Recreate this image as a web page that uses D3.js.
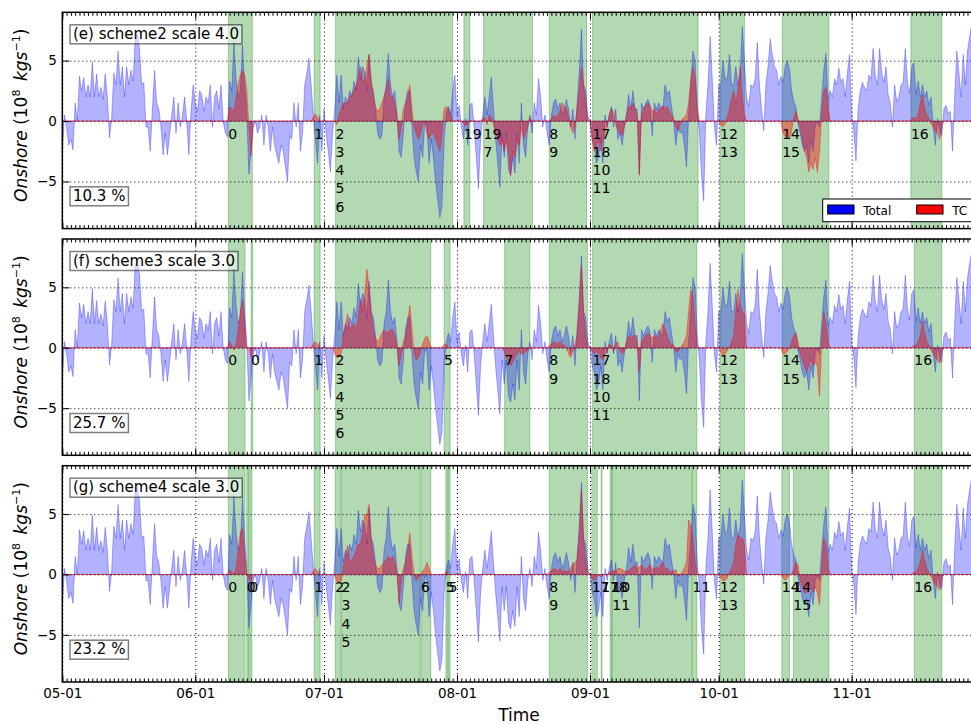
<!DOCTYPE html>
<html>
<head>
<meta charset="utf-8">
<script src="https://cdn.jsdelivr.net/npm/d3@7"></script>
<style>
body { margin: 0; background: #fff; }
text { font-family: "DejaVu Sans", sans-serif; }
</style>
</head>
<body>
<div id="chart"></div>
<script>

// Onshore flux, total (10^8 kg/s), one value every 12 h from 05-01 00h
var total = [
  -2.8, 0.5, -0.5, -2.0, -1.5, -2.4, 1.5, 0.0, 3.7, 2.5,
  3.6, 2.0, 3.0, 2.0, 4.9, 2.0, 3.9, 2.0, 2.8, 1.8,
  3.9, 2.0, -1.4, 0.2, 4.0, 3.0, 5.8, 3.0, 4.5, 2.0,
  4.5, 3.0, 4.2, 3.3, 6.9, 7.2, 6.0, 3.0, 3.2, -0.5,
  -0.5, -2.5, 1.0, 4.2, 1.5, 1.0, -0.5, -2.8, -1.0, -2.8,
  -1.2, 0.5, 2.0, -1.0, 1.5, -0.5, 0.4, 2.0, 0.0, -2.8,
  0.8, 3.0, 1.5, 0.8, 2.5, 2.2, 0.8, 2.0, 1.5, 3.0,
  -0.5, 2.0, 2.5, 1.0, 3.0, 0.0, -1.0, -1.3, 3.3, 2.5,
  6.5, 3.5, 2.0, 2.5, 6.3, 2.8, 0.5, -4.4, -2.5, -0.5,
  0.0, -1.0, -0.5, 0.5, -2.0, 0.5, -0.5, -2.5, -0.5, -2.0,
  -2.8, -3.5, -2.0, -2.5, -3.8, -5.0, -1.2, -1.5, 1.5, -0.5,
  1.5, -2.5, -1.0, 3.0, 4.0, 5.2, 3.0, 0.5, -1.5, -3.5,
  0.5, -2.5, 1.0, -1.0, -2.5, -4.2, -1.0, 1.0, 3.8, 1.5,
  3.8, 1.0, 2.0, 1.5, 2.5, 2.0, 3.3, 2.5, 5.3, 3.5,
  4.5, 4.0, 2.5, 5.5, 3.0, 2.5, 1.0, -1.0, -1.5, -1.2,
  2.0, 3.0, 5.6, 3.0, 2.0, 2.5, 0.5, -2.5, -3.0, -1.0,
  1.5, 2.5, 2.5, -0.5, -3.0, -4.2, -5.0, -2.0, -3.0, 0.0,
  -0.5, -3.5, -1.5, -3.0, -5.0, -6.5, -8.0, -7.0, -1.5, 0.5,
  1.2, 0.5, 2.5, 3.8, 0.5, 1.3, -0.5, -1.5, 0.2, -2.0,
  1.3, 1.5, -0.5, -3.0, -5.6, -1.5, 0.5, 2.0, 0.5, 2.0,
  3.6, 1.0, -1.5, -3.5, -5.5, -1.0, -3.0, -1.0, -4.0, -4.5,
  -3.0, -4.3, -1.0, -3.5, 1.5, -2.0, -3.0, -0.5, 0.5, -1.0,
  1.5, 0.5, 3.5, 2.0, -0.5, 0.5, -1.0, -2.0, 0.5, 1.5,
  1.8, 1.0, 1.5, 0.5, 1.0, 1.8, 1.0, -0.5, 1.0, -1.5,
  1.5, 4.0, 7.6, 3.0, 2.5, 0.5, 0.0, -1.5, -2.0, -3.5,
  -3.0, -1.5, -3.5, 0.5, -0.5, 0.5, 1.2, -0.5, 1.0, -1.5,
  -1.0, -2.0, -0.5, 0.5, 2.2, 1.0, 2.5, 1.0, 1.0, -4.4,
  1.5, 1.0, 1.5, 1.8, 1.3, -1.2, 1.5, 1.0, 1.5, 1.2,
  1.0, 3.0, 2.2, 2.5, 1.2, 0.0, -2.0, -0.5, -1.0, -0.8,
  -2.0, -3.8, 0.5, 3.0, 5.8, 5.0, 1.0, -1.0, -4.5, -6.6,
  0.5, 3.0, 7.0, 3.5, -0.5, -2.0, 3.0, 3.0, 5.0, 3.5,
  3.5, 5.5, 3.0, 3.0, 4.5, 3.0, 4.0, 7.8, 5.0, 2.0,
  1.2, 3.0, 2.8, 3.5, 6.5, 3.0, 1.0, -0.8, 3.0, 4.5,
  6.8, 5.5, 4.5, 4.2, 3.0, 3.7, 3.2, 4.5, 5.0, 4.3,
  2.5, 1.6, 1.2, -0.3, -1.0, -2.0, -2.5, -2.0, -3.5, -1.5,
  -2.5, -0.5, 0.0, -0.5, 2.0, 4.2, 5.6, 1.8, 2.5, 2.0,
  3.5, 3.0, 4.4, 3.2, 3.5, 2.0, 4.0, 5.5, 0.5, -0.8,
  -3.3, 1.0, 2.5, 3.2, 2.8, 2.5, 3.8, 3.5, 6.0, 3.8,
  3.0, 6.0, 4.0, 3.2, 4.5, 2.2, 1.5, -0.5, 3.0, 1.6,
  2.0, 3.0, 3.2, 6.0, 3.2, 2.3, 4.5, 4.8, 2.2, 3.3,
  2.0, 3.0, 2.0, 2.5, 1.3, 2.0, -0.5, -2.0, 0.2, -0.8,
  -1.2, 1.0, 1.3, 0.6, 0.8, -2.5, 2.0, 5.8, 4.0, 2.0,
  5.5, 3.0, 5.8, 7.0, 8.0, 7.0
];

// TC part, as [first 12h slot, values...]; zero outside these pieces
var tcScheme2 = [
  [78, [1.2, 1.0, 0.8, 1.8, 3.0, 3.8, 4.2, 3.8, 2.5, -0.5, -2.9]],
  [117, [0.3, 0.6, 0.3]],
  [128, [-0.3, 0.5, 1.0, 1.5, 1.5, 1.5, 2.0, 2.2, 2.5, 3.0,
         3.5, 4.5, 3.2, 3.5, 4.5, 5.5, 3.5, 2.0, 1.2, 0.8,
         1.0, 1.5, 2.0, 2.5, 3.5, 2.0, 2.0, 1.5, 0.5, -1.5,
         -0.5, 1.0, 1.5, 2.0, 3.0, 1.0, -0.5, -1.0, -1.5, -1.0,
         -0.3, 0.0, -1.0, -1.5, -1.0, -1.0, -1.5, -2.0, -2.5, -1.0,
         1.0, 1.2, 1.0, 0.5]],
  [187, [-0.2, -0.4, -0.3]],
  [196, [0.2, 0.3, -0.3, 0.5, 0.3, -0.3, -1.0, -1.5, -2.0, -1.5,
         -2.5, -1.5, -2.5, -4.5, -2.5, -3.0, -1.5, -2.0, -0.5, -1.5,
         -1.0, -0.5, 0.3]],
  [228, [0.2, 0.5, 0.3, 0.5, 0.8, 1.5, 1.2, 1.0, 0.3, -0.5,
         -1.0, -0.3, 1.0, 2.5, 4.5, 3.0, 1.5]],
  [247, [-1.5, -2.5, -2.0, -1.5, -2.5, -1.5, -1.0, -0.5, 0.5, 1.0,
         0.8, -0.3, -0.8, -1.0, -1.2, -0.5, 0.5, 1.2, 1.0, 1.5,
         1.0, 0.5, -4.5, 0.5, 1.0, 1.3, 1.5, 1.2, 0.8, 1.0,
         0.5, 1.0, 1.0, 1.3, 1.0, 1.2, 0.8, 0.5, 0.2, -0.5,
         -0.8, -0.3, 0.2, 0.3, 0.5, 1.5, 3.5, 4.5, 3.5, 1.0]],
  [307, [-0.3, -0.5, -0.2, 0.3, 1.0, 1.8, 2.5, 1.5, 2.5, 4.5, 2.0, 0.5]],
  [336, [-1.0, -1.3, -0.8, -1.5, -0.8, 0.3, 0.8, 0.2, -0.5, -1.5,
         -2.5, -3.0, -4.2, -3.5, -4.0, -3.0, -4.2, -2.5, 0.5, 2.5,
         2.8, 1.0]],
  [396, [0.2, 0.3, 0.2, 0.5, 1.5, 2.2, 1.0, 0.5, 0.2, -0.2,
         -0.5, -0.8, -1.0, -1.5, -0.3]]
];

var tcScheme3 = [
  [78, [0.5, 0.2, -0.2, 0.3, 1.5, 3.0, 3.9, 2.0]],
  [88, [-0.8]],
  [117, [0.3, 0.5, 0.3]],
  [127, [-0.5, -0.8, -0.8, -0.5, 1.0, 1.8, 2.8, 1.5, 1.8, 2.0,
         1.5, 2.5, 4.0, 3.0, 4.5, 6.5, 5.0, 3.0, 1.5, 0.8,
         0.5, 0.8, 1.2, 1.5, 1.2, 1.3, 1.5, 1.5, 1.0, 0.3,
         -1.5, -0.5, 0.5, 1.0, 2.0, 3.5, 1.5, -0.5, -1.0, -0.8,
         -0.3, 0.3, 0.8, 1.0, 0.5]],
  [178, [0.3, 0.3]],
  [206, [-0.3, -0.8, -1.0, -1.5, -1.2, -0.8, -0.5, -0.3, -0.5, -0.5, -0.3, -0.2]],
  [227, [0.2, 0.3, 0.5, 0.4, 0.3, 0.5, 0.3, 0.2, 0.0, -0.5,
         -0.8, -0.3, 0.3, 1.0, 3.5, 6.8, 3.0, 1.0]],
  [247, [-0.3, -0.5, -0.3, -0.5, -0.8, -1.0, -0.5, -0.3, 0.3, 0.2,
         -0.3, 0.3, 0.5, -0.3, -0.5, -0.3, 0.5, 1.0, 0.8, 1.0,
         1.0, 0.5, -2.0, 0.5, 0.8, 1.0, 1.2, 1.0, 0.8, 1.0,
         0.8, 1.0, 1.5, 2.0, 1.5, 1.0, 0.5, 0.3, 0.2, -0.3,
         -0.3, 0.0, 0.2, 0.5, 1.0, 3.0, 4.8, 4.2, 2.0]],
  [307, [-0.3, -0.7, -0.5, -0.2, 0.0, 0.5, 1.0, 3.0, 4.8, 3.5, 3.0, 2.8]],
  [336, [-0.5, -0.5, -0.3, 0.0, 0.5, 1.0, 1.2, 0.5, -0.5, -1.0,
         -1.5, -2.0, -1.5, -1.0, -1.5, -1.2, -1.5, -4.0, 0.5, 3.0,
         2.0, 0.5]],
  [397, [0.2, 0.2, 0.5, 1.0, 2.2, 1.2, 0.5, 0.2, -0.2, -0.5,
         -0.8, -1.0, -1.3, -0.3]]
];

var tcScheme4 = [
  [78, [0.4, 0.2, 0.0, 0.5, 2.0, 3.5, 3.8, 1.5]],
  [87, [-0.3, -0.6]],
  [117, [0.3, 0.5, 0.3]],
  [128, [-0.6, -0.6, -0.5, 0.5, 1.5, 2.4, 1.0, 1.2, 1.5, 2.0,
         2.5, 2.5, 3.5, 5.0, 4.8, 5.8, 3.0, 1.5, 0.8, 0.5,
         0.5, 0.8, 1.0, 1.2, 1.5, 1.2, 1.5, 1.0, 0.3, -2.4,
         -0.5, 0.5, 1.0, 2.0, 3.4, 1.5, 0.0, -0.5, -0.3, 0.0,
         0.3, 0.5, 1.0, 0.5]],
  [179, [0.3]],
  [227, [0.2, 0.3, 0.5, 0.4, 0.3, 0.5, 0.3, 0.3, 0.2, 0.3,
         0.5, 0.8, 1.0, 1.2, 3.0, 7.0, 3.0, 1.0]],
  [247, [-0.3, -0.5, -0.3]],
  [251, [-0.2]],
  [255, [0.2, 0.2, 0.3, 0.3, 0.5, 0.5, 0.4, 0.3, 0.2, 0.3,
         0.5, 0.6, 0.8, 0.5, 0.6, 0.8, 0.6, 0.3, 0.6, 0.8,
         0.4, 0.5, 0.6, 0.5, 0.8, 1.0, 0.5, 0.5, 0.3, 0.2,
         0.3, 0.4, -0.2, 0.0, 0.2, 0.5, 1.0, 4.5, 4.0, 3.0,
         1.0]],
  [307, [-0.3, -0.5, -0.5, -0.3, 0.2, 0.5, 1.0, 2.5, 3.3, 3.0, 3.0, 2.5]],
  [336, [-0.3, -0.5, -0.3]],
  [341, [0.5, 1.0, 0.8, -0.5, -1.0, -1.5, -1.5, -1.0, -1.0, -1.5,
         -1.0, -1.5, -2.5, 0.5, 3.0, 2.5, 0.5]],
  [397, [0.2, 0.2, 0.5, 1.0, 2.0, 1.2, 0.5, 0.2, -0.2, -0.5,
         -0.8, -1.0, -1.3, -0.3]]
];

// TC events: [start day, end day, labels], days counted from 05-01 00h
var eventsScheme2 = [
  [38.7, 44.3, ["0"]],
  [58.7, 60.1, ["1"]],
  [63.7, 91.0, ["2", "3", "4", "5", "6"]],
  [93.6, 95.0, ["19"]],
  [98.2, 109.6, ["19", "7"]],
  [113.5, 122.2, ["8", "9"]],
  [123.6, 148.2, ["17", "18", "10", "11"]],
  [153.3, 159.0, ["12", "13"]],
  [167.8, 178.7, ["14", "15"]],
  [197.8, 205.0, ["16"]]
];
var eventsScheme3 = [
  [38.7, 42.6, ["0"]],
  [44.0, 44.4, ["0"]],
  [58.7, 60.1, ["1"]],
  [63.7, 85.9, ["2", "3", "4", "5", "6"]],
  [89.0, 90.4, ["5"]],
  [103.1, 109.0, ["7"]],
  [113.5, 122.4, ["8", "9"]],
  [123.6, 147.9, ["17", "18", "10", "11"]],
  [153.3, 159.0, ["12", "13"]],
  [167.8, 178.7, ["14", "15"]],
  [198.6, 205.0, ["16"]]
];
var eventsScheme4 = [
  [38.7, 42.6, ["0"]],
  [43.0, 43.4, ["0"]],
  [43.6, 44.2, ["0"]],
  [58.7, 60.1, ["1"]],
  [63.6, 64.9, ["2"]],
  [65.1, 83.4, ["2", "3", "4", "5"]],
  [83.6, 85.9, ["6"]],
  [89.4, 89.8, ["5"]],
  [90.0, 90.4, ["5"]],
  [113.5, 122.4, ["8", "9"]],
  [123.4, 124.7, ["17"]],
  [125.6, 125.8, ["17"]],
  [127.7, 128.1, ["18"]],
  [128.2, 146.7, ["10", "11"]],
  [146.9, 147.9, ["11"]],
  [153.3, 159.0, ["12", "13"]],
  [167.7, 169.5, ["14"]],
  [170.4, 178.7, ["14", "15"]],
  [198.6, 205.0, ["16"]]
];

var panelTitles = ["(e) scheme2 scale 4.0", "(f) scheme3 scale 3.0", "(g) scheme4 scale 3.0"];
var percents = ["10.3 %", "25.7 %", "23.2 %"];
var yTicks = [-5, 0, 5];
var legendNames = ["Total", "TC"];

//Width and height
var w = 971;
var h = 724;
var panelTop = [12.3, 239, 465.7];
var panelH = 216.3;

var start = new Date(Date.UTC(2015, 4, 1));
var end = new Date(Date.UTC(2015, 10, 30));

var slotDate = function(i) { return new Date(start.getTime() + i * 12 * 3600e3); };
var dayDate = function(d) { return new Date(start.getTime() + d * 864e5); };

var xScale = d3.scaleUtc().domain([start, end]).range([62.3, 976.1]);

var tcAll = [tcScheme2, tcScheme3, tcScheme4];
var eventsAll = [eventsScheme2, eventsScheme3, eventsScheme4];

//Spread TC pieces over the full time line
var expand = function(pieces) {
  var a = total.map(function() { return 0; });
  pieces.forEach(function(p) {
    p[1].forEach(function(v, i) { a[p[0] + i] = v; });
  });
  return a;
};

var svg = d3.select("#chart").append("svg")
  .attr("width", w)
  .attr("height", h);

var defs = svg.append("defs");

panelTop.forEach(function(top, k) {

  var yScale = d3.scaleLinear().domain([-8.9, 9.0]).range([top + panelH, top]);

  defs.append("clipPath").attr("id", "clip" + k)
    .append("rect")
    .attr("x", xScale.range()[0]).attr("y", top)
    .attr("width", xScale.range()[1] - xScale.range()[0]).attr("height", panelH);

  var g = svg.append("g");
  var plot = g.append("g").attr("clip-path", "url(#clip" + k + ")");

  //TC event spans
  plot.selectAll("rect.span")
    .data(eventsAll[k])
    .enter()
    .append("rect")
    .attr("class", "span")
    .attr("x", function(d) { return xScale(dayDate(d[0])); })
    .attr("width", function(d) { return xScale(dayDate(d[1])) - xScale(dayDate(d[0])); })
    .attr("y", top)
    .attr("height", panelH)
    .attr("fill", "#008000")
    .attr("fill-opacity", 0.3)
    .attr("stroke", "#008000")
    .attr("stroke-opacity", 0.3)
    .attr("stroke-width", 1);

  var area = d3.area()
    .x(function(d, i) { return xScale(slotDate(i)); })
    .y0(yScale(0))
    .y1(function(d) { return yScale(d); });

  plot.append("path")
    .datum(total)
    .attr("d", area)
    .attr("fill", "blue")
    .attr("fill-opacity", 0.3)
    .attr("stroke", "blue")
    .attr("stroke-opacity", 0.3)
    .attr("stroke-width", 1);

  plot.append("path")
    .datum(expand(tcAll[k]))
    .attr("d", area)
    .attr("fill", "red")
    .attr("fill-opacity", 0.4)
    .attr("stroke", "red")
    .attr("stroke-opacity", 0.4)
    .attr("stroke-width", 1);

  //Grid
  var gx = g.append("g")
    .attr("transform", "translate(0," + (top + panelH) + ")")
    .call(d3.axisBottom(xScale).ticks(d3.utcMonth.every(1)).tickSize(-panelH).tickFormat(""));
  var gy = g.append("g")
    .attr("transform", "translate(" + xScale.range()[0] + ",0)")
    .call(d3.axisLeft(yScale).tickValues(yTicks).tickSize(-(xScale.range()[1] - xScale.range()[0])).tickFormat(""));
  [gx, gy].forEach(function(s) {
    s.select(".domain").remove();
    s.selectAll("line").attr("stroke", "#000").attr("stroke-dasharray", "1,3").attr("stroke-width", 1);
  });

  //Ticks, pointing in
  [["top", top, d3.axisTop], ["bottom", top + panelH, d3.axisBottom]].forEach(function(a) {
    var major = g.append("g").attr("transform", "translate(0," + a[1] + ")")
      .call(a[2](xScale).ticks(d3.utcMonth.every(1)).tickSize(-7).tickFormat(""));
    var minor = g.append("g").attr("transform", "translate(0," + a[1] + ")")
      .call(a[2](xScale).ticks(d3.utcDay.every(1)).tickSize(-3.5).tickFormat(""));
    [major, minor].forEach(function(s) {
      s.select(".domain").remove();
      s.selectAll("line").attr("stroke", "#000").attr("stroke-width", 1);
    });
  });

  var yAxis = g.append("g")
    .attr("transform", "translate(" + xScale.range()[0] + ",0)")
    .call(d3.axisLeft(yScale).tickValues(yTicks).tickSize(-7).tickPadding(5.5));
  yAxis.select(".domain").remove();
  yAxis.selectAll("line").attr("stroke", "#000");
  yAxis.selectAll("text")
    .attr("font-size", "13.5px")
    .attr("font-family", "DejaVu Sans")
    .attr("fill", "#000");

  //Frame
  g.append("rect")
    .attr("x", xScale.range()[0]).attr("y", top)
    .attr("width", xScale.range()[1] - xScale.range()[0]).attr("height", panelH)
    .attr("fill", "none")
    .attr("stroke", "#000")
    .attr("stroke-width", 1.5);

  //Event numbers, stacked under the zero line
  eventsAll[k].forEach(function(e) {
    e[2].forEach(function(lab, j) {
      g.append("text")
        .attr("x", xScale(dayDate(e[0])))
        .attr("y", yScale(0) + 17.5 + j * 18.3)
        .attr("font-size", "14px")
        .attr("fill", "#000")
        .text(lab);
    });
  });

  //Boxed texts
  var boxText = function(str, ty) {
    var t = g.append("text")
      .attr("x", 73)
      .attr("y", ty)
      .attr("font-size", "15px")
      .attr("fill", "#000")
      .text(str);
    var bb = t.node().getBBox();
    g.insert("rect", function() { return t.node(); })
      .attr("x", bb.x - 3).attr("y", bb.y)
      .attr("width", bb.width + 6).attr("height", bb.height + 1)
      .attr("fill", "#fff").attr("fill-opacity", 0.5)
      .attr("stroke", "#000").attr("stroke-opacity", 0.5)
      .attr("stroke-width", 1.5);
  };
  boxText(panelTitles[k], top + 26.5);
  boxText(percents[k], top + 188.5);

  //Y label
  var yl = g.append("text")
    .attr("transform", "translate(27," + (top + 103) + ") rotate(-90)")
    .attr("text-anchor", "middle")
    .attr("font-family", "DejaVu Serif")
    .attr("font-size", "17px")
    .attr("fill", "#000");
  yl.append("tspan").attr("font-style", "italic").text("Onshore");
  yl.append("tspan").text(" (10");
  yl.append("tspan").attr("font-size", "11px").attr("dy", -7).text("8");
  yl.append("tspan").attr("font-style", "italic").attr("dy", 7).text("\u2002kgs");
  yl.append("tspan").attr("font-size", "11px").attr("dy", -7).text("\u22121");
  yl.append("tspan").attr("dy", 7).text(")");

  //Legend in the first panel
  if (k === 0) {
    var lg = g.append("g");
    lg.append("rect")
      .attr("x", 822.7).attr("y", 199)
      .attr("width", 170).attr("height", 22.7)
      .attr("fill", "#fff").attr("stroke", "#000").attr("stroke-width", 1);
    legendNames.forEach(function(name, i) {
      var lx = 827.7 + i * 89;
      lg.append("rect")
        .attr("x", lx).attr("y", 205)
        .attr("width", 26.3).attr("height", 9)
        .attr("fill", i === 0 ? "blue" : "red")
        .attr("stroke", "#000").attr("stroke-width", 1);
      lg.append("text")
        .attr("x", lx + 35.5).attr("y", 214.5)
        .attr("font-size", "12px")
        .attr("fill", "#000")
        .text(name);
    });
  }

  //Date labels only under the last panel
  if (k === 2) {
    var xAxis = g.append("g")
      .attr("transform", "translate(0," + (top + panelH) + ")")
      .call(d3.axisBottom(xScale).ticks(d3.utcMonth.every(1)).tickSize(0).tickPadding(6.7)
        .tickFormat(d3.utcFormat("%m-%d")));
    xAxis.select(".domain").remove();
    xAxis.selectAll("text")
      .attr("font-size", "13.5px")
      .attr("font-family", "DejaVu Sans")
      .attr("fill", "#000");

    g.append("text")
      .attr("x", 519)
      .attr("y", 721)
      .attr("text-anchor", "middle")
      .attr("font-size", "17px")
      .attr("fill", "#000")
      .text("Time");
  }
});

</script>
</body>
</html>
